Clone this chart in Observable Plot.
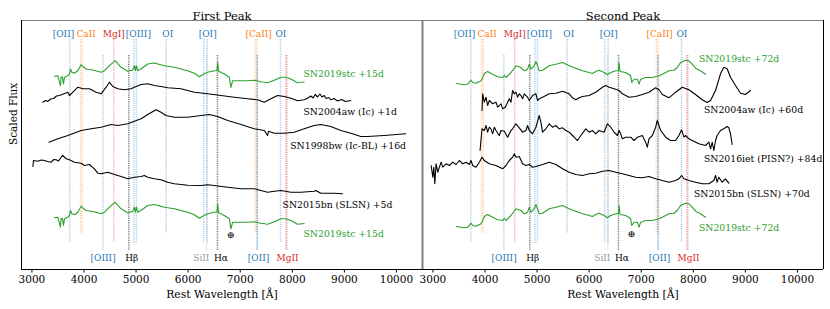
<!DOCTYPE html>
<html><head><meta charset="utf-8">
<script src="https://cdn.jsdelivr.net/npm/d3@7"></script>
<script src="https://cdn.jsdelivr.net/npm/@observablehq/plot@0.6"></script>
<style>body{margin:0;background:#fff;}</style>
</head><body><div id="chart"></div>
<script>
const blue = "#1f77b4", orange = "#ff7f0e", red = "#d62728", green = "#2ca02c", gray = "#9a9a9a";
const panels = ["First Peak", "Second Peak"];
const xTicks = [3000, 4000, 5000, 6000, 7000, 8000, 9000, 10000];

// ---- First peak spectra (wavelength in Å, scaled flux + offset) ----
const stc15Wl = [3433,3497,3548,3561,3587,3606,3625,3689,3721,3740,3766,3817,3881,3945,3996,4041,4169,4328,4392,4488,4597,4712,4840,4936,4968,4987,5006,5032,5095,5223,5351,5543,5735,5863,5991,6118,6214,6278,6374,6502,6553,6566,6585,6694,6790,6822,6854,6950,7141,7269,7397,7525,7653,7781,7877,7972,8100,8228];
const stc15Fx = [51.7,52.3,42.3,51.3,50.7,44,50.7,52.3,54,59,55.7,54.7,57.3,63.3,60.7,59,58,55.7,57.3,62.3,67.3,60.7,56.7,58,62.3,57.3,62.3,57.3,59,64,65,62.3,60.7,59,57.3,54.7,51.3,53.3,55.7,57.3,57.3,65.7,56.7,54,50.7,40.7,47.3,47.3,47.3,47.7,46.3,45.3,47.7,50.7,50.7,49,45.3,46];
const stc15Offsets = [141.5, 0];

const aw1Wl = [3210,3260,3300,3370,3420,3470,3529,3690,3721,3786,3882,3978,4104,4233,4329,4425,4488,4553,4649,4776,4904,4967,5096,5224,5351,5479,5608,5863,6118,6375,6630,6885,7142,7334,7461,7589,7718,7844,7973,8101,8228,8300,8357,8400,8440,8485,8530,8570,8612,8650,8700,8740,8800,8869,8950,9020,9124];
const aw1Fx = [167.3,169,168,170.7,171,173.5,174,177.3,174,177.3,182.3,180.7,180.7,177.3,175.7,182.3,187.3,183,180.7,179.7,180.7,182.3,185,185.7,184,183,181.7,180.7,177.3,175.7,174,172.3,170.7,169.7,167.3,170.7,174,173,171.3,168.7,169.7,171.5,173.5,171.5,175,172.5,175.5,172.5,174,171,172,169.7,171,168.5,170,168,169];

const bw16Wl = [3326,3498,3690,3945,4137,4329,4520,4649,4841,4967,5096,5224,5384,5479,5575,5735,5992,6247,6406,6567,6759,7014,7269,7461,7526,7545,7653,7844,8036,8228,8420,8548,8740,8932,9124,9315,9444,9762,10179];
const bw16Fx = [127.3,130.7,134,139,140.7,142.3,145,144,145.7,148.3,150.7,155,159.7,157.3,154,152.3,152.3,154,155,153,149,145,140.7,139,134,138.3,136.3,136.3,137.3,140.7,144,145,143,139,136.3,133,133,134,135.7];

const bn5Wl = [3019,3030,3115,3180,3241,3300,3370,3420,3466,3510,3561,3594,3657,3721,3817,3945,4008,4104,4200,4265,4329,4457,4584,4712,4841,4967,5096,5159,5224,5351,5479,5608,5735,5992,6247,6375,6502,6759,7014,7269,7397,7526,7653,7781,7973,8165,8420,8450,8548,8803,8964];
const bn5Fx = [103,109,108.3,109.5,109,108,107.3,110,109.7,108.5,112.3,114,110.7,109.7,107.3,106.3,104,105,100.7,96.3,95.7,97.3,95,93,90.7,92.3,93,94,92.3,90.7,89.7,87.3,85.7,84.3,84,84.7,84,82.3,80.7,80.7,79,77.3,78.3,79,77.3,77.3,78.3,79,76.3,76.3,75.7];

// ---- Second peak spectra ----
const stc72Wl = [3445,3541,3604,3668,3732,3764,3828,3924,3956,3988,4051,4147,4243,4339,4371,4403,4499,4594,4690,4754,4818,4850,4882,4946,4978,5010,5041,5105,5233,5361,5489,5616,5744,5872,6000,6063,6127,6191,6287,6351,6415,6510,6562,6574,6593,6702,6798,6817,6862,6926,6958,6989,7085,7213,7341,7405,7533,7628,7692,7756,7852,7916,7979,8043,8139,8235];
const stc72Fx = [43,42.3,41.7,42.3,46.3,44,43.3,45.7,49,53,55,52.3,49.7,49,51.3,49,54,60.7,59,55.7,57.3,62.3,57.3,60.7,65,60.7,55.7,56.3,60.7,62.3,64,60.7,58.3,55.7,54,53,55,56.3,54,51.7,54,55.7,55.7,64,55,54,50.7,44,47.3,47.3,42.3,47.3,49,49,50.7,52.3,55.7,56.3,59,64,66.3,65.7,62.3,58.3,55.7,52.3];
const stc72Offsets = [143, 0];

const aw60Wl = [3943,3956,3988,4020,4051,4083,4147,4211,4243,4307,4339,4390,4435,4467,4499,4530,4562,4594,4626,4658,4690,4722,4754,4818,4850,4914,4978,5010,5041,5105,5233,5361,5489,5616,5680,5744,5808,5872,6000,6127,6255,6319,6383,6479,6574,6638,6766,6894,7021,7149,7277,7341,7405,7533,7660,7788,7916,8043,8171,8267,8331,8427,8522,8586,8650,8714,8810,8906,9001,9097];
const aw60Fx = [159,175.7,167.3,172.3,164,169,165.7,167.3,162.3,165.7,160.7,162.3,167.3,170.7,167.3,179,175.7,177.3,172.3,175.7,174,170.7,175.7,172.3,169,174,175.7,169,170.7,172.3,175.7,176.3,178.3,175.7,171.7,169.7,171.7,173,174,177.3,182.3,184,182.3,180.7,179,175.7,172.3,173,175,177.3,181.7,179.7,175,171.7,177.3,182.3,179.7,175,169.7,167,169,179,195.7,202.3,200.7,192.3,184,176.3,175,179];

const iet84Wl = [3905,3943,3988,4020,4051,4083,4115,4147,4179,4211,4275,4307,4371,4435,4499,4530,4594,4658,4722,4786,4818,4850,4914,4978,5041,5073,5105,5169,5233,5297,5361,5425,5489,5552,5616,5680,5744,5776,5840,5936,6000,6063,6127,6191,6287,6351,6415,6479,6542,6574,6606,6638,6702,6798,6862,6926,7021,7085,7117,7149,7213,7277,7309,7373,7469,7564,7660,7724,7775,7820,7852,7916,7979,8107,8235,8299,8331,8363,8395,8427,8458,8522,8586,8650,8682,8714,8746];
const iet84Fx = [119,140.7,139,144,137.3,142.3,140.7,135.7,142.3,139,134,139,138.3,132.3,139,140.7,145.7,141.7,137.3,139,144,139,135.7,142.3,154,147.3,137.3,140.7,145.7,142.3,144,140.7,141.7,139,137.3,134,130.7,129,134,140.7,137.3,139,135.7,139,137.3,145.7,142.3,137.3,134,139,135.7,130.7,132.3,132.3,129,132.3,134,127.3,122.3,130.7,134,142.3,149,139,132.3,129,129,134,139.7,132.3,134,130.7,129,125.7,124,127.3,120.7,127.3,119,129,134,139,140.7,143,141.7,135.7,125];

const bn70Wl = [2966,2998,3017,3036,3061,3093,3125,3157,3189,3253,3317,3381,3445,3509,3572,3636,3700,3732,3764,3828,3892,3943,3988,4083,4211,4339,4403,4467,4530,4562,4594,4658,4722,4786,4850,4914,4978,5105,5233,5361,5489,5616,5744,5872,6000,6127,6255,6383,6510,6638,6766,6894,7021,7149,7277,7405,7533,7660,7724,7775,7820,7916,8043,8171,8299,8395,8427,8458,8490,8554,8618,8682];
const bn70Fx = [104,92.3,102.3,85.7,105.7,97.3,102.3,107.3,102.3,105.7,104,107.3,105,109,105.7,107.3,105,109,104,102.3,107.3,112.3,109,105.7,104,100.7,104,109,112.3,115.7,112.3,113,105.7,104,105,102.3,103,105,107.3,105,100.7,97.3,95,94,95.7,96.3,98.3,99,97.3,95.7,94,92.3,91.7,93,90.7,89,87.3,89,90.7,94,90.7,89,87.3,85.7,85.7,89,94,87.3,92.3,87.3,90.7,86.3];

// ---- Spectrum labels ----
const specLabels = ["SN2019stc +15d","SN2004aw (Ic) +1d","SN1998bw (Ic-BL) +16d","SN2015bn (SLSN) +5d","SN2019stc +15d",
                    "SN2019stc +72d","SN2004aw (Ic) +60d","SN2016iet (PISN?) +84d","SN2015bn (SLSN) +70d","SN2019stc +72d"];
const specLabelPanel = [0,0,0,0,0,1,1,1,1,1];
const specLabelWl = [8215,8215,7960,7812,8215, 8107,8203,8203,8011,8107];
const specLabelFx = [195,157,123,64.7,35, 210,159,110.7,75,41.3];
const specLabelColor = [green,"black","black","black",green, green,"black","black","black",green];
const earthWl = [6822, 6817];
const earthFx = [35, 35.7];

// ---- Line identifications ----
const lineWl = [3727,3934,3968,4363,4571,4861,4959,5007,5577,6300,6364,6355,6563,7291,7324,7320,7330,7774,7877,7896];
const lineColor = [blue,orange,orange,blue,red,"black",blue,blue,blue,blue,blue,gray,"black",orange,orange,blue,blue,blue,red,red];
const lineTop = [230,230,230,214,230,214,230,230,230,230,230,214,214,230,230,214,214,230,214,214];
const lineBottom = [27,36,36,19,27,19,26,26,36,26,26,19,19,36,36,19,19,27,19,19];

const topLabels = ["[OII]","CaII","MgI]","[OIII]","OI","[OI]","[CaII]","OI"];
const topLabelWl = [3606,4041,4572,5044,5608,6375,7353,7781];
const topLabelColor = [blue,orange,red,blue,blue,blue,orange,blue];
const botLabels = ["[OIII]","Hβ","SiII","Hα","[OII]","MgII"];
const botLabelWl = [4367,4917,6253,6630,7353,7910];
const botLabelColor = [blue,"black",gray,"black",blue,red];
const topLabelFx = 235, botLabelFx = 11.7;

// ---- build tables ----
function spec(panel, id, wl, fx, offset, color) {
  return wl.map((w, i) => ({panel, id, w, f: fx[i] + offset, color}));
}
const spectra = [
  ...stc15Offsets.flatMap((o, k) => spec(panels[0], "stc15_" + k, stc15Wl, stc15Fx, o, green)),
  ...spec(panels[0], "aw1", aw1Wl, aw1Fx, 0, "black"),
  ...spec(panels[0], "bw16", bw16Wl, bw16Fx, 0, "black"),
  ...spec(panels[0], "bn5", bn5Wl, bn5Fx, 0, "black"),
  ...stc72Offsets.flatMap((o, k) => spec(panels[1], "stc72_" + k, stc72Wl, stc72Fx, o, green)),
  ...spec(panels[1], "aw60", aw60Wl, aw60Fx, 0, "black"),
  ...spec(panels[1], "iet84", iet84Wl, iet84Fx, 0, "black"),
  ...spec(panels[1], "bn70", bn70Wl, bn70Fx, 0, "black")
];
const lines = lineWl.map((w, i) => ({w, color: lineColor[i], top: lineTop[i], bottom: lineBottom[i], op: lineColor[i] === "black" ? 0.5 : 0.35}));
const labels = specLabels.map((t, i) => ({t, panel: panels[specLabelPanel[i]], w: specLabelWl[i], f: specLabelFx[i], color: specLabelColor[i]}));
const tops = topLabels.map((t, i) => ({t, w: topLabelWl[i], f: topLabelFx, color: topLabelColor[i]}));
const bots = botLabels.map((t, i) => ({t, w: botLabelWl[i], f: botLabelFx, color: botLabelColor[i]}));
const earth = earthWl.map((w, i) => ({panel: panels[i], w, f: earthFx[i]}));

const font = "DejaVu Serif";
const chart = Plot.plot({
  width: 830, height: 309,
  marginLeft: 20, marginRight: 7, marginTop: 20, marginBottom: 40,
  x: {domain: [2800, 10500]},
  y: {domain: [0, 249], axis: null},
  fx: {domain: panels, padding: 0, axis: null},
  color: {type: "identity"},
  style: {fontFamily: font, fontSize: "10px", background: "white", color: "black"},
  marks: [
    Plot.ruleX(lines, {x: "w", y1: "top", y2: "bottom", stroke: "color", strokeWidth: 1.5, strokeOpacity: "op", strokeDasharray: "1.2,1"}),
    Plot.line(spectra, {x: "w", y: "f", z: "id", stroke: "color", fx: "panel", strokeWidth: 1.1}),
    Plot.text(labels, {x: "w", y: "f", text: "t", fill: "color", fx: "panel", textAnchor: "start", fontSize: 9.3}),
    Plot.text(tops, {x: "w", y: "f", text: "t", fill: "color", fontSize: 9}),
    Plot.text(bots, {x: "w", y: "f", text: "t", fill: "color", fontSize: 9}),
    Plot.text(earth, {x: "w", y: "f", text: () => "⊕", fx: "panel", fontSize: 9.5}),
    Plot.ruleY([0], {stroke: "black", strokeWidth: 1}),
    Plot.ruleY([249], {stroke: "#808080", strokeWidth: 1}),
    Plot.ruleX([{p: panels[0], w: 2800}], {x: "w", fx: "p", stroke: "black"}),
    Plot.ruleX([{p: panels[0], w: 10500}], {x: "w", fx: "p", stroke: "#808080", strokeWidth: 2}),
    Plot.ruleX([{p: panels[1], w: 10500}], {x: "w", fx: "p", stroke: "black"}),
    Plot.axisX({ticks: xTicks, tickFormat: d => String(d), tickSize: 3.5, tickPadding: 2.5, fontSize: 10.5, label: null}),
    Plot.text(panels.map(p => ({p})), {fx: "p", text: "p", frameAnchor: "top", dy: -9, fontSize: 11.5}),
    Plot.text([{p: panels[0]}, {p: panels[1]}], {fx: "p", text: () => "Rest Wavelength [Å]", frameAnchor: "bottom", dy: 28, fontSize: 10.8}),
    Plot.text([{p: panels[0]}], {fx: "p", text: () => "Scaled Flux", frameAnchor: "left", rotate: -90, dx: -8, fontSize: 10.5})
  ]
});
document.getElementById("chart").appendChild(chart);
</script></body></html>
